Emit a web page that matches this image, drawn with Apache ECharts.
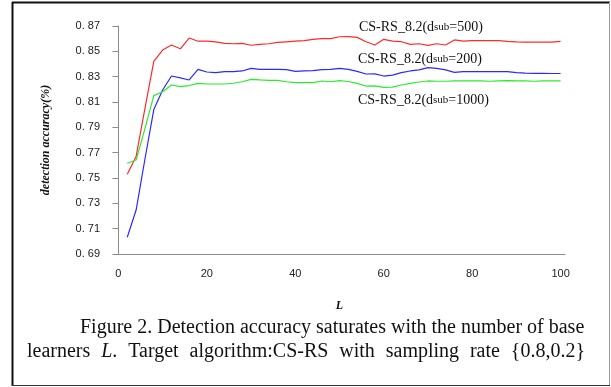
<!doctype html>
<html>
<head>
<meta charset="utf-8">
<title>Detection accuracy vs L</title>
<style>
  html, body { margin: 0; padding: 0; background: #fff; }
  #main { width: 611px; height: 387px; }
</style>
</head>
<body>
<div id="main"></div>
<script src="https://cdn.jsdelivr.net/npm/echarts@6/dist/echarts.min.js"></script>
<script>
// number of base learners L
var L = [2, 4, 6, 8, 10, 12, 14, 16, 18, 20, 22, 24, 26, 28, 30, 32, 34, 36, 38, 40,
  42, 44, 46, 48, 50, 52, 54, 56, 58, 60, 62, 64, 66, 68, 70, 72, 74, 76, 78, 80,
  82, 84, 86, 88, 90, 92, 94, 96, 98, 100];

// dsub=500 (red)
var acc500 = [0.753, 0.767, 0.805, 0.842, 0.851, 0.855, 0.852, 0.8605, 0.858, 0.858,
  0.8575, 0.8563, 0.856, 0.8563, 0.8548, 0.8555, 0.856, 0.857, 0.8575, 0.858,
  0.8585, 0.8595, 0.860, 0.860, 0.8615, 0.8616, 0.861, 0.8576, 0.855, 0.8595,
  0.858, 0.8576, 0.8555, 0.856, 0.8547, 0.856, 0.855, 0.859, 0.858, 0.8584,
  0.8584, 0.8584, 0.8584, 0.8578, 0.8574, 0.8572, 0.8572, 0.8572, 0.8572, 0.8578];

// dsub=200 (blue)
var acc200 = [0.7032, 0.7247, 0.765, 0.804, 0.8195, 0.8305, 0.829, 0.8274, 0.8358, 0.8337,
  0.8332, 0.834, 0.834, 0.8345, 0.8366, 0.8358, 0.8358, 0.8358, 0.8355, 0.8342,
  0.8345, 0.8348, 0.8355, 0.8358, 0.8366, 0.8358, 0.8342, 0.8321, 0.8322, 0.8305,
  0.8312, 0.8332, 0.8345, 0.8353, 0.8372, 0.8366, 0.8353, 0.8334, 0.834, 0.834,
  0.834, 0.834, 0.834, 0.834, 0.8332, 0.8328, 0.8326, 0.8326, 0.8325, 0.8325];

// dsub=1000 (green)
var acc1000 = [0.7616, 0.7642, 0.789, 0.815, 0.8181, 0.8234, 0.8221, 0.823, 0.8247, 0.8242,
  0.8242, 0.8242, 0.8248, 0.826, 0.8279, 0.8274, 0.827, 0.827, 0.826, 0.8253,
  0.8253, 0.8253, 0.8266, 0.826, 0.8268, 0.8262, 0.8247, 0.8226, 0.8228, 0.8216,
  0.8218, 0.8234, 0.8247, 0.8258, 0.8266, 0.8264, 0.8264, 0.8266, 0.8266, 0.8266,
  0.8266, 0.8264, 0.8266, 0.8268, 0.8266, 0.8266, 0.8264, 0.8266, 0.8266, 0.8266];

var xTicks = [0, 20, 40, 60, 80, 100];
var yTicks = [0.69, 0.71, 0.73, 0.75, 0.77, 0.79, 0.81, 0.83, 0.85, 0.87];

// caption, second line is justified between x=27 and x=585 in the original
// [text, italic, glued to previous word]
var caption1 = 'Figure 2. Detection accuracy saturates with the number of base';
var caption2 = [['learners', false, false], ['L', true, false], ['.', false, true], ['Target', false, false],
  ['algorithm:CS-RS', false, false], ['with', false, false], ['sampling', false, false],
  ['rate', false, false], ['{0.8,0.2}', false, false]];

function pairs(vals) {
  var out = [];
  for (var i = 0; i < L.length; i++) out.push([L[i], vals[i]]);
  return out;
}

var serif = '"Liberation Serif", "Times New Roman", serif';
var labelFont = '"Liberation Sans", Arial, sans-serif';

function seriesLabel(n, left, top) {
  return {
    type: 'text', left: left, top: top,
    style: {
      text: '{a|CS-RS_8.2(d}{b|sub}{a|=' + n + ')}',
      rich: {
        a: { fontFamily: serif, fontSize: 14, fill: '#111' },
        b: { fontFamily: serif, fontSize: 11, fill: '#111' }
      }
    }
  };
}

function capWord(txt, left, top, italic) {
  return {
    type: 'text', left: left, top: top,
    style: { text: txt, fontFamily: serif, fontSize: 20, fontStyle: italic ? 'italic' : 'normal', fill: '#111' }
  };
}

// lay out the justified line with measured word widths
function justifiedLine(words, x0, x1, top) {
  var ctx = document.createElement('canvas').getContext('2d');
  var widths = [], total = 0, gaps = 0;
  words.forEach(function (w, i) {
    ctx.font = (w[1] ? 'italic ' : '') + '20px ' + serif;
    var wd = ctx.measureText(w[0]).width;
    widths.push(wd);
    total += wd;
    if (i > 0 && !w[2]) gaps++;
  });
  var gap = (x1 - x0 - total) / gaps;
  var out = [], x = x0;
  words.forEach(function (w, i) {
    if (i > 0 && !w[2]) x += gap;
    out.push(capWord(w[0], x, top, w[1]));
    x += widths[i];
  });
  return out;
}

var myChart = echarts.init(document.getElementById('main'));

var option = {
  animation: false,
  backgroundColor: '#fff',
  grid: { left: 114, right: 46, top: 26, bottom: 133 },
  xAxis: {
    type: 'value', min: -1, max: 101,
    name: 'L', nameLocation: 'middle', nameGap: 46,
    nameTextStyle: { fontFamily: serif, fontStyle: 'italic', fontWeight: 'bold', fontSize: 12, color: '#111' },
    axisLine: { lineStyle: { color: '#8c8c8c', width: 1 } },
    axisTick: { show: false },
    splitLine: { show: false },
    axisLabel: { customValues: xTicks, margin: 14, fontFamily: labelFont, fontSize: 11, color: '#222' }
  },
  yAxis: {
    type: 'value', min: 0.69, max: 0.87,
    name: 'detection accuracy(%)', nameLocation: 'middle', nameGap: 62, nameRotate: 90,
    nameTextStyle: { fontFamily: serif, fontStyle: 'italic', fontWeight: 'bold', fontSize: 12, color: '#111' },
    axisLine: { show: true, lineStyle: { color: '#8c8c8c', width: 1 } },
    axisTick: { show: true, customValues: yTicks, length: 6, lineStyle: { color: '#8c8c8c' } },
    splitLine: { show: false },
    axisLabel: {
      customValues: yTicks, margin: 14, fontFamily: labelFont, fontSize: 11, color: '#222',
      formatter: function (v) { return v.toFixed(2).replace('.', '. '); }
    }
  },
  series: [
    { name: 'dsub=500', type: 'line', data: pairs(acc500), showSymbol: false, lineStyle: { color: '#ff2a2a', width: 1.2 } },
    { name: 'dsub=200', type: 'line', data: pairs(acc200), showSymbol: false, lineStyle: { color: '#2a2aff', width: 1.2 } },
    { name: 'dsub=1000', type: 'line', data: pairs(acc1000), showSymbol: false, lineStyle: { color: '#2ee82e', width: 1.2 } }
  ],
  graphic: [
    // frame
    { type: 'line', shape: { x1: 12, y1: 2.5, x2: 610, y2: 2.5 }, style: { stroke: '#111', lineWidth: 2 } },
    { type: 'line', shape: { x1: 12.5, y1: 2, x2: 12.5, y2: 386 }, style: { stroke: '#111', lineWidth: 2 } },
    { type: 'line', shape: { x1: 609.5, y1: 2, x2: 609.5, y2: 386 }, style: { stroke: '#999', lineWidth: 1 } },
    { type: 'line', shape: { x1: 12, y1: 385.5, x2: 610, y2: 385.5 }, style: { stroke: '#333', lineWidth: 1 } },
    seriesLabel(500, 359, 20),
    seriesLabel(200, 358, 52),
    seriesLabel(1000, 358, 93),
    capWord(caption1, 80, 318)
  ].concat(justifiedLine(caption2, 27, 585, 342))
};

myChart.setOption(option);
</script>
</body>
</html>
